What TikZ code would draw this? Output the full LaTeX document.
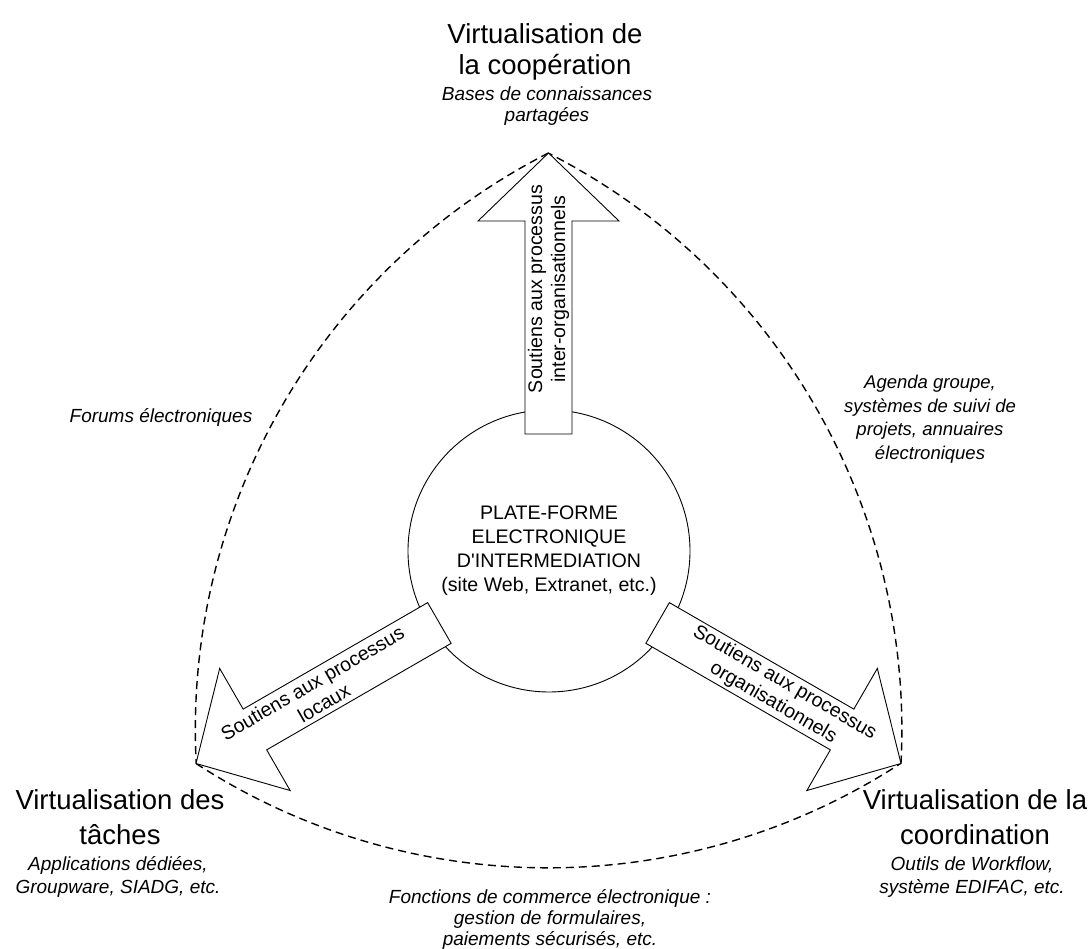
\documentclass[tikz,border=0pt]{standalone}
\usepackage{fontspec}
\setmainfont{Liberation Sans}
\usetikzlibrary{calc}
\begin{document}
\begin{tikzpicture}[x=1pt,y=1pt,
  every node/.style={inner sep=0pt, align=center},
  bigtitle/.style={font=\fontsize{27.5}{35}\selectfont},
  subnote/.style={font=\fontsize{19}{21}\selectfont\itshape},
  bodytext/.style={font=\fontsize{19.6}{24}\selectfont},
  arrowtext/.style={font=\fontsize{19.6}{23}\selectfont},
  fatarrow/.style={draw=black, fill=white, line width=0.9pt, line join=miter},
  boundary/.style={draw=black, dash pattern=on 8pt off 5pt, line width=1.4pt},
]
\useasboundingbox (0,0) rectangle (1088,949);

% centre of the three-fold layout and the three arrow tips
\coordinate (hub) at (548.5,389);
\coordinate (tipT) at ($(hub)+(90:407)$);
\coordinate (tipL) at ($(hub)+(210:407)$);
\coordinate (tipR) at ($(hub)+(330:407)$);

% dashed curved triangle joining the tips
\draw[boundary] (tipL) arc[start angle=237, end angle=303, radius=646.8];
\draw[boundary] (tipR) arc[start angle=357, end angle=423, radius=646.8];
\draw[boundary] (tipT) arc[start angle=117, end angle=183, radius=646.8];

% central platform
\node[circle, draw, line width=0.9pt, fill=white, minimum size=282pt, bodytext] (platform) at (549,398)
  {PLATE-FORME\\ELECTRONIQUE\\D\textquotesingle INTERMEDIATION\\(site Web, Extranet, etc.)};

% three block arrows leaving the platform
\foreach \a in {90,210,330}{
  \draw[fatarrow, shift={(hub)}, rotate=\a]
    (126,-23.5) -- (339,-23.5) -- (339,-70.5) -- (407,0) -- (339,70.5) -- (339,23.5) -- (126,23.5) -- cycle;
}

\node[arrowtext, rotate=90] (upLabel) at ($(hub)+(90:271)$) {Soutiens aux processus\\inter-organisationnels};
\node[arrowtext, rotate=30] (leftLabel) at ($(hub)+(210:266)$) {Soutiens aux processus\\locaux};
\node[arrowtext, rotate=-30] (rightLabel) at ($(hub)+(330:266)$) {Soutiens aux processus\\organisationnels};

% corner titles and notes
\node[bigtitle, font=\fontsize{27.5}{31}\selectfont] (coopTitle) at (545,897) {Virtualisation de\\la coopération};
\node[subnote, font=\fontsize{19}{21}\selectfont\itshape] (coopNote) at (547,843) {Bases de connaissances\\partagées};

\node[bigtitle] (tasksTitle) at (120,131.5) {Virtualisation des\\tâches};
\node[subnote, font=\fontsize{19}{22.5}\selectfont\itshape] (tasksNote) at (118,72) {Applications dédiées,\\Groupware, SIADG, etc.};

\node[bigtitle] (coordTitle) at (975,131.5) {Virtualisation de la\\coordination};
\node[subnote, font=\fontsize{19}{22.5}\selectfont\itshape] (coordNote) at (972,72) {Outils de Workflow,\\système EDIFAC, etc.};

% notes along the dashed sides
\node[subnote] (commerceNote) at (550,30) {Fonctions de commerce électronique :\\gestion de formulaires,\\paiements sécurisés, etc.};
\node[subnote] (forumsNote) at (161,532) {Forums électroniques};
\node[subnote, font=\fontsize{18.5}{23.5}\selectfont\itshape] (agendaNote) at (930,530)
  {Agenda groupe,\\systèmes de suivi de\\projets, annuaires\\électroniques};
\end{tikzpicture}
\end{document}
